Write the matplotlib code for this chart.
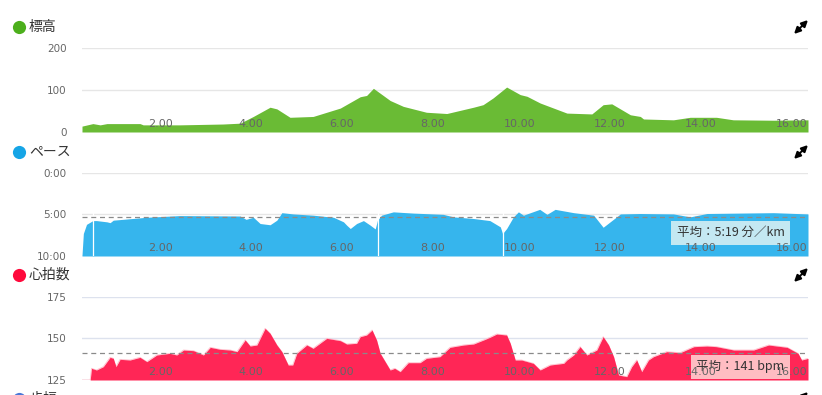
import matplotlib
matplotlib.use("Agg")
import matplotlib.pyplot as plt

# distance axis (km) and series
ELEV_KM = [0.0, 0.24, 0.4, 0.55, 1.28, 1.35, 2.16, 3.11, 3.49, 3.78, 4.15, 4.3, 4.59,
           5.1, 5.25, 5.7, 6.14, 6.28, 6.43, 6.8, 7.09, 7.6, 8.05, 8.64, 8.85, 9.07,
           9.37, 9.67, 9.82, 10.11, 10.7, 11.25, 11.5, 11.69, 12.1, 12.32, 12.39,
           13.05, 13.42, 14.0, 14.37, 15.26, 16.02]
ELEV_M = [14, 20, 17, 20, 20, 17, 17, 19, 21, 37, 59, 55, 35,
          37, 42, 57, 84, 87, 104, 75, 61, 47, 44, 59, 65, 81,
          107, 89, 85, 69, 45, 43, 65, 67, 41, 37, 31,
          29, 35, 35, 29, 28, 29]

PACE_KM = [0.0, 0.03, 0.1, 0.24, 0.32, 0.55, 0.62, 0.69, 1.43, 2.16, 3.49, 3.62, 3.78,
           3.93, 4.15, 4.3, 4.41, 4.66, 5.1, 5.55, 5.77, 5.84, 5.92, 6.06, 6.21, 6.36,
           6.47, 6.52, 6.61, 6.87, 7.31, 7.97, 8.2, 8.64, 9.0, 9.23, 9.28, 9.37, 9.52,
           9.63, 9.74, 10.1, 10.26, 10.44, 10.85, 11.29, 11.5, 11.88, 12.32, 13.05,
           13.42, 13.79, 15.26, 16.02]
PACE_MIN = [9.9, 7.3, 6.2, 5.75, 5.75, 5.9, 6.0, 5.7, 5.35, 5.15, 5.2, 5.6, 5.35,
            6.1, 6.25, 5.7, 4.8, 4.95, 5.1, 5.35, 5.9, 6.3, 6.7, 6.1, 5.75, 6.3,
            6.75, 5.7, 5.1, 4.7, 4.85, 5.0, 5.3, 5.5, 5.75, 6.5, 7.3, 6.7, 5.3,
            4.7, 5.1, 4.4, 5.0, 4.4, 4.8, 5.1, 6.55, 4.95, 4.9, 4.95,
            5.3, 4.9, 4.8, 4.95]
PACE_GAPS = [0.24, 6.54, 9.28]
PACE_AVG = 5 + 19 / 60
PACE_TICKS = [0, 5, 10]
PACE_TICK_LABELS = ["0:00", "5:00", "10:00"]

HR_KM = [0.0, 0.18, 0.21, 0.32, 0.47, 0.62, 0.69, 0.75, 0.84, 1.06, 1.28, 1.43, 1.65,
         1.94, 2.09, 2.24, 2.46, 2.68, 2.83, 3.05, 3.27, 3.42, 3.6, 3.71, 3.86, 4.04,
         4.15, 4.3, 4.41, 4.55, 4.65, 4.74, 4.96, 5.1, 5.4, 5.7, 5.84, 6.06, 6.14,
         6.28, 6.4, 6.5, 6.58, 6.69, 6.8, 6.9, 7.02, 7.2, 7.46, 7.6, 7.9, 8.12, 8.42,
         8.64, 8.86, 9.0, 9.15, 9.37, 9.45, 9.56, 9.7, 9.96, 10.11, 10.33, 10.63,
         10.7, 10.85, 10.99, 11.14, 11.36, 11.5, 11.62, 11.73, 11.84, 12.02, 12.13,
         12.24, 12.35, 12.5, 12.61, 12.9, 13.2, 13.5, 13.79, 14.0, 14.38, 14.82,
         15.15, 15.56, 15.8, 15.88, 16.02]
HR_BPM = [125, 125, 132, 131, 133, 138.6, 138, 133, 137.4, 137, 138.6, 136, 140,
          141, 140, 143, 142.6, 140, 144.6, 143.4, 143, 142, 149, 145.4, 146, 156,
          153, 146, 142, 134, 134, 141, 146, 144, 150, 148.6, 146.6, 147, 151,
          152, 155, 149, 141, 136, 131, 132, 130, 135.4, 135.4, 138, 139, 144.6, 146,
          146.6, 149, 150.6, 152.6, 152, 147, 137, 137, 135, 131, 134, 135,
          137, 140, 145, 140, 143, 151, 146, 139, 128, 127, 133,
          137, 130, 137, 139, 142, 141.4, 145, 145.4, 145, 143, 143,
          146, 144.6, 141, 137, 138]
HR_AVG = 141

X_TICKS = [2, 4, 6, 8, 10, 12, 14, 16]

W, H = 822, 395
GRID = "#e6e6e6"
TICK_COL = "#666666"
CJK = ["Noto Sans CJK JP", "DejaVu Sans"]

fig = plt.figure(figsize=(W / 100, H / 100), dpi=100)


def panel(top, bottom):
    return fig.add_axes([82 / W, (H - bottom) / H, 726 / W, (bottom - top) / H])


def style(ax, yticks, ylabels=None, gridcol=GRID):
    ax.set_xlim(0, 16.02)
    ax.set_yticks(yticks)
    if ylabels is not None:
        ax.set_yticklabels(ylabels)
    ax.set_xticks(X_TICKS)
    ax.set_xticklabels([f"{t:.2f}" for t in X_TICKS])
    for lab in ax.get_xticklabels():
        lab.set_ha("right")
    ax.tick_params(axis="x", length=0, pad=-9.5, labelsize=8, labelcolor=TICK_COL)
    ax.tick_params(axis="y", length=0, pad=11, labelsize=7.5, labelcolor=TICK_COL)
    # gridlines behind the fill, tick labels stay above it
    for t in yticks:
        ax.axhline(t, color=gridcol, lw=1, zorder=0.2)
    for s in ax.spines.values():
        s.set_visible(False)


# elevation
ax1 = panel(48, 132)
ax1.fill_between(ELEV_KM, 0, ELEV_M, color="#6abb35", lw=0, zorder=1)
ax1.set_ylim(0, 200)
style(ax1, [0, 100, 200])

# pace (inverted)
ax2 = panel(172.7, 256)
ax2.fill_between(PACE_KM, PACE_MIN, 10, color="#36b5ed", lw=0, zorder=1)
ax2.vlines(PACE_GAPS, 4.0, 10, color="white", lw=0.9, zorder=1.2)
ax2.axhline(PACE_AVG, color="#8a8a8a", lw=0.9, ls=(0, (4, 3)), zorder=2)
ax2.set_ylim(10, 0)
style(ax2, PACE_TICKS, PACE_TICK_LABELS)
ax2.text(0.9675, 0.2, "平均：5:19 分／km", transform=ax2.transAxes, ha="right", va="bottom",
         fontsize=9, color="#333333", family=CJK, zorder=1.4,
         bbox=dict(boxstyle="square,pad=0.45", fc="#c4e8f2", ec="none"))

# heart rate
ax3 = panel(296.7, 380)
ax3.fill_between(HR_KM, 125, HR_BPM, color="#ff2656", lw=0, zorder=1)
ax3.plot(HR_KM, HR_BPM, color="#ffc0cc", lw=0.6, zorder=0.9)
ax3.axhline(HR_AVG, color="#8a8a8a", lw=0.9, ls=(0, (4, 3)), zorder=2)
ax3.set_ylim(125, 175)
style(ax3, [125, 150, 175], gridcol="#dde2ee")
ax3.text(0.9675, 0.08, "平均：141 bpm", transform=ax3.transAxes, ha="right", va="bottom",
         fontsize=9, color="#333333", family=CJK, zorder=1.4,
         bbox=dict(boxstyle="square,pad=0.45", fc="#ffbcc2", ec="none"))

# overlay in figure pixels: series headers and expand icons
ov = fig.add_axes([0, 0, 1, 1], facecolor="none")
ov.set_xlim(0, W)
ov.set_ylim(H, 0)
ov.axis("off")

headers = [(27, "標高", "#4caf1c"), (152, "ペース", "#16a5e6"),
           (275, "心拍数", "#ff0a3c"), (399, "歩幅", "#4a78d8")]
for y, name, col in headers:
    ov.scatter([19], [y], s=90, color=col, lw=0, clip_on=False)
    ov.text(29, y, name, fontsize=10, color="#333333", family=CJK, va="center", ha="left")
    ov.annotate("", xy=(808, y - 7), xytext=(801.5, y - 0.5),
                arrowprops=dict(arrowstyle="-|>", color="black", lw=1.6, mutation_scale=9,
                                shrinkA=0, shrinkB=0))
    ov.annotate("", xy=(794, y + 7), xytext=(800.5, y + 0.5),
                arrowprops=dict(arrowstyle="-|>", color="black", lw=1.6, mutation_scale=9,
                                shrinkA=0, shrinkB=0))

fig.savefig("out.png", dpi=100)
